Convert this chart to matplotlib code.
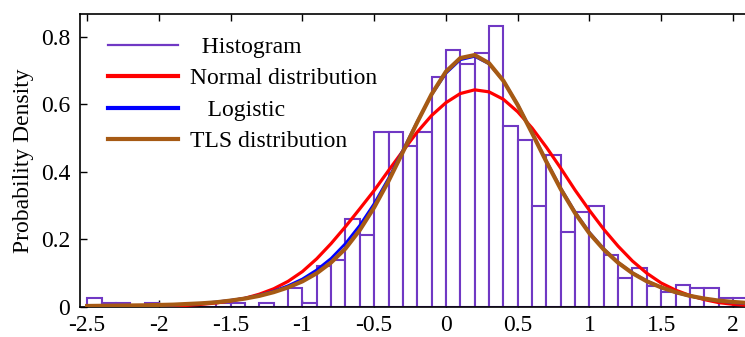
import numpy as np
import matplotlib
matplotlib.use("Agg")
import matplotlib.pyplot as plt
from matplotlib.lines import Line2D

# ---------------- data ----------------
bin_width = 0.1
bin_left = np.round(np.arange(-2.5, 2.05, 0.1), 1)          # 46 bins
hist_density = [0.028, 0.011, 0.011, 0.0, 0.011, 0.0, 0.0, 0.0, 0.0, 0.011,
                0.011, 0.0, 0.011, 0.0, 0.056, 0.011, 0.122, 0.138, 0.262, 0.212,
                0.517, 0.517, 0.478, 0.517, 0.680, 0.761, 0.719, 0.752, 0.831, 0.535,
                0.495, 0.299, 0.449, 0.223, 0.281, 0.299, 0.153, 0.085, 0.115, 0.062,
                0.045, 0.065, 0.055, 0.055, 0.027, 0.027]

curve_x = np.round(np.arange(-2.5, 2.15, 0.1), 1)           # 47 points
normal_pdf = [0.0002, 0.0003, 0.0005, 0.0008, 0.0012, 0.002, 0.003, 0.005, 0.008, 0.012,
              0.018, 0.026, 0.038, 0.054, 0.076, 0.105, 0.143, 0.188, 0.238, 0.291,
              0.345, 0.404, 0.462, 0.518, 0.567, 0.605, 0.632, 0.643, 0.637, 0.615,
              0.578, 0.530, 0.473, 0.411, 0.346, 0.286, 0.230, 0.180, 0.136, 0.100,
              0.071, 0.050, 0.034, 0.022, 0.013, 0.008, 0.005]
logistic_pdf = [0.001, 0.0014, 0.0018, 0.0025, 0.0033, 0.0045, 0.006, 0.008, 0.011, 0.015,
                0.020, 0.026, 0.035, 0.047, 0.063, 0.083, 0.110, 0.144, 0.188, 0.242,
                0.306, 0.381, 0.464, 0.549, 0.628, 0.692, 0.732, 0.742, 0.720, 0.670,
                0.599, 0.517, 0.432, 0.352, 0.281, 0.221, 0.172, 0.132, 0.101, 0.077,
                0.058, 0.043, 0.032, 0.024, 0.018, 0.013, 0.010]
tls_pdf = [0.003, 0.0035, 0.004, 0.0045, 0.005, 0.006, 0.007, 0.009, 0.011, 0.014,
           0.019, 0.025, 0.033, 0.044, 0.058, 0.076, 0.100, 0.132, 0.173, 0.228,
           0.295, 0.373, 0.459, 0.547, 0.630, 0.697, 0.737, 0.746, 0.722, 0.670,
           0.598, 0.515, 0.430, 0.349, 0.278, 0.218, 0.170, 0.131, 0.100, 0.076,
           0.058, 0.044, 0.033, 0.025, 0.019, 0.015, 0.012]

x_ticks = [-2.5, -2, -1.5, -1, -0.5, 0, 0.5, 1, 1.5, 2]
x_tick_labels = ["-2.5", "-2", "-1.5", "-1", "-0.5", "0", "0.5", "1", "1.5", "2"]
y_ticks = [0, 0.2, 0.4, 0.6, 0.8]
y_tick_labels = ["0", "0.2", "0.4", "0.6", "0.8"]

legend_labels = ["  Histogram", "Normal distribution", "   Logistic", "TLS distribution"]

# ---------------- style ----------------
PURPLE = "#7038c4"
RED = "#ff0000"
BLUE = "#0000ff"
BROWN = "#a65a14"
FONT = ["Liberation Serif", "DejaVu Serif"]
FS = 17

plt.rcParams["font.family"] = FONT

fig = plt.figure(figsize=(7.45, 3.37), dpi=100)
ax = fig.add_axes([80 / 745, 30 / 337, 1.0 - 80 / 745 + 0.01, 293.5 / 337])

ax.bar(bin_left, hist_density, width=bin_width, align="edge",
       facecolor="white", edgecolor=PURPLE, linewidth=1.5, zorder=2)

ax.plot(curve_x, normal_pdf, color=RED, lw=2.3, zorder=3)
ax.plot(curve_x, logistic_pdf, color=BLUE, lw=2.0, zorder=4)
ax.plot(curve_x, tls_pdf, color=BROWN, lw=3.0, zorder=5)

ax.set_xlim(-2.55, 2.084 + 0.01 * 745 / 143.5)
ax.set_ylim(0, 0.869)

ax.set_xticks(x_ticks)
ax.set_xticklabels(x_tick_labels, fontsize=FS)
ax.set_yticks(y_ticks)
ax.set_yticklabels(y_tick_labels, fontsize=FS)
ax.tick_params(direction="in", length=5, width=1, top=True, right=False)
ax.tick_params(axis="x", pad=6)
ax.tick_params(axis="y", pad=7)
ax.set_ylabel("Probability Density", fontsize=FS, labelpad=5)

for side in ["left", "bottom", "top"]:
    ax.spines[side].set_linewidth(1.2)
ax.spines["right"].set_visible(False)

handles = [Line2D([], [], color=PURPLE, lw=1.6),
           Line2D([], [], color=RED, lw=3),
           Line2D([], [], color=BLUE, lw=3),
           Line2D([], [], color=BROWN, lw=3)]
leg = ax.legend(handles, legend_labels, loc="upper left",
                bbox_to_anchor=(28 / 665, 1.0 - 23 / 293.5), frameon=False,
                fontsize=FS, handlelength=2.95, handletextpad=0.5,
                labelspacing=0.42, borderpad=0, borderaxespad=0)

fig.savefig("out.png", dpi=100)
